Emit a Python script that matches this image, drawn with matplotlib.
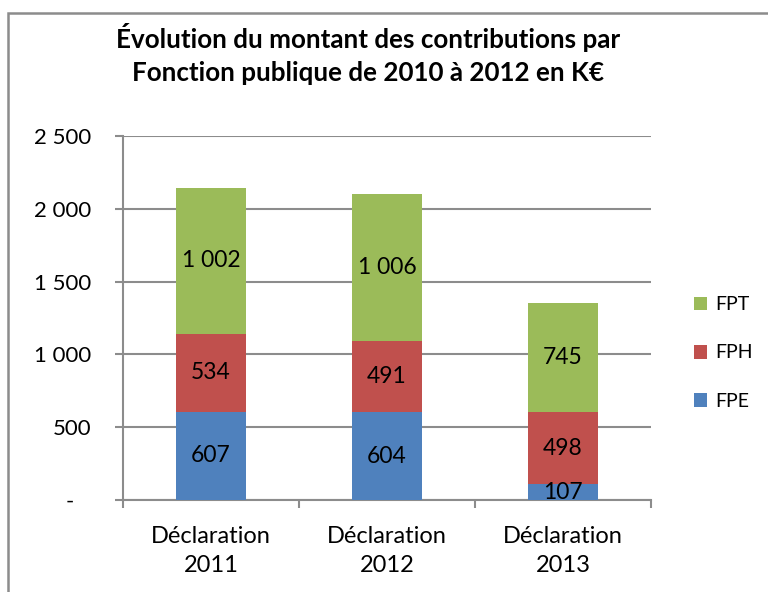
import matplotlib.pyplot as plt
from matplotlib.patches import Rectangle, Patch
import numpy as np

# Data (K€)
categories = ['Déclaration\n2011', 'Déclaration\n2012', 'Déclaration\n2013']
fpe = [607, 604, 107]
fph = [534, 491, 498]
fpt = [1002, 1006, 745]
series_names = ['FPE', 'FPH', 'FPT']
colors = ['#4F81BD', '#C0504D', '#9BBB59']
yticks = [0, 500, 1000, 1500, 2000, 2500]


def fr_num(v):
    # French style thousands separator, '-' for zero (Excel accounting style)
    if v == 0:
        return '-   '
    return f'{v:,}'.replace(',', ' ')


plt.rcParams['font.family'] = ['Lato', 'DejaVu Sans']

fig = plt.figure(figsize=(7.68, 5.92), dpi=100)
# outer chart frame (cropped on the right and bottom)
fig.patches.append(Rectangle((8 / 768, -0.1), 1.2, 1 - 13 / 592 + 0.1,
                             transform=fig.transFigure, fill=False,
                             edgecolor='#8c8c8c', linewidth=1.8))

ax = fig.add_axes([123 / 768, 1 - 500 / 592, 528 / 768, 364 / 592])

x = np.arange(len(categories))
bottom = np.zeros(len(categories))
handles = []
for name, vals, col in zip(series_names, [fpe, fph, fpt], colors):
    bars = ax.bar(x, vals, width=0.4, bottom=bottom, color=col, zorder=3)
    for b, v in zip(bars, vals):
        ax.text(b.get_x() + b.get_width() / 2, b.get_y() + b.get_height() / 2,
                fr_num(v), ha='center', va='center', fontsize=16.5, zorder=4)
    bottom += np.array(vals)
    handles.append(Patch(facecolor=col, label=name))

ax.set_xlim(-0.5, len(categories) - 0.5)
ax.set_ylim(0, 2500)
ax.set_yticks(yticks)
ax.set_yticklabels([fr_num(v) for v in yticks], fontsize=16)
ax.yaxis.grid(True, color='#8c8c8c', linewidth=1.5, zorder=0)

ax.set_xticks(x)
ax.set_xticklabels(categories, fontsize=17, linespacing=1.45)
ax.set_xticks(np.arange(len(categories) + 1) - 0.5, minor=True)
ax.tick_params(axis='x', which='major', length=0, pad=19)
ax.tick_params(axis='x', which='minor', length=6, width=1.5, color='#8c8c8c')
ax.tick_params(axis='y', length=6, width=1.5, color='#8c8c8c', pad=17)

for side in ['top', 'right']:
    ax.spines[side].set_visible(False)
for side in ['left', 'bottom']:
    ax.spines[side].set_color('#8c8c8c')
    ax.spines[side].set_linewidth(1.5)

fig.text(368 / 768, 1 - 54 / 592,
         'Évolution du montant des contributions par\nFonction publique de 2010 à 2012 en K€',
         ha='center', va='center', fontsize=18.7, fontweight='bold', linespacing=1.45)

fig.legend(handles=handles[::-1], loc='center left',
           bbox_to_anchor=(676 / 768, 1 - 353 / 592), frameon=False,
           fontsize=14, handlelength=0.7, handleheight=0.7,
           handletextpad=0.4, labelspacing=1.6)

fig.savefig('out.png', dpi=100)
